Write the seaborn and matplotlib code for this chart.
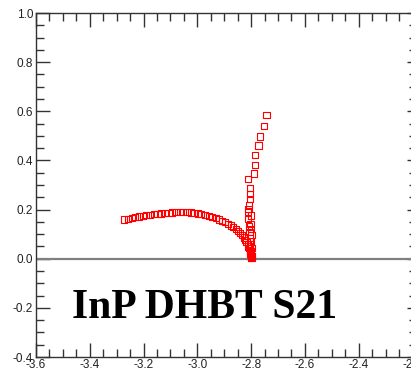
import matplotlib
matplotlib.use("Agg")
import matplotlib.pyplot as plt
from matplotlib.ticker import MultipleLocator, FormatStrFormatter
import seaborn as sns
import pandas as pd

# Real and imaginary parts of S21 (measured sweep)
s21_real = [
    -3.272, -3.258, -3.244, -3.231, -3.217, -3.203, -3.190, -3.176, -3.162, -3.148,
    -3.135, -3.121, -3.107, -3.094, -3.080, -3.066, -3.052, -3.039, -3.025, -3.012,
    -2.998, -2.985, -2.971, -2.958, -2.945, -2.932, -2.920, -2.908, -2.897, -2.886,
    -2.876, -2.866, -2.857, -2.849, -2.841, -2.834, -2.828, -2.822, -2.817, -2.813,
    -2.810, -2.807, -2.805, -2.803, -2.802, -2.801, -2.800, -2.800, -2.799, -2.799,
    -2.800, -2.801, -2.799, -2.803, -2.800, -2.804, -2.799, -2.806, -2.801, -2.809,
    -2.802, -2.813, -2.800, -2.813, -2.810, -2.808, -2.805, -2.805, -2.805, -2.813,
    -2.788, -2.786, -2.786, -2.773, -2.768, -2.752, -2.743,
]
s21_imag = [
    0.160, 0.163, 0.166, 0.169, 0.172, 0.175, 0.177, 0.179, 0.181, 0.183,
    0.184, 0.186, 0.187, 0.188, 0.189, 0.189, 0.189, 0.189, 0.188, 0.186,
    0.184, 0.181, 0.178, 0.174, 0.170, 0.165, 0.160, 0.154, 0.148, 0.142,
    0.135, 0.128, 0.120, 0.112, 0.104, 0.095, 0.086, 0.077, 0.068, 0.059,
    0.050, 0.042, 0.034, 0.027, 0.020, 0.014, 0.009, 0.005, 0.003, 0.012,
    0.022, 0.033, 0.045, 0.058, 0.070, 0.085, 0.097, 0.110, 0.121, 0.131,
    0.141, 0.163, 0.176, 0.190, 0.202, 0.220, 0.244, 0.263, 0.288, 0.323,
    0.347, 0.383, 0.423, 0.461, 0.497, 0.540, 0.586,
]

x_ticks = [-3.6, -3.4, -3.2, -3.0, -2.8, -2.6, -2.4, -2.2]
y_ticks = [-0.4, -0.2, 0.0, 0.2, 0.4, 0.6, 0.8, 1.0]
label_text = "InP DHBT S21"

df = pd.DataFrame({"re": s21_real, "im": s21_imag})

sns.set_style("ticks")
plt.rcParams["font.family"] = ["Liberation Sans", "DejaVu Sans"]
plt.rcParams["axes.unicode_minus"] = False

fig = plt.figure(figsize=(4.11, 3.81), dpi=100)
ax = fig.add_axes([36 / 411, 24 / 381, 376.5 / 411, 344 / 381])

ax.axhline(0.0, color="#808080", lw=1.6, zorder=1)

sns.scatterplot(data=df, x="re", y="im", ax=ax, marker="s", s=20,
                facecolors="none", edgecolor="#ff0000", linewidth=0.8,
                zorder=3, legend=False)

ax.set_xlim(x_ticks[0], x_ticks[-1])
ax.set_ylim(y_ticks[0], y_ticks[-1])
ax.set_xticks(x_ticks)
ax.set_yticks(y_ticks)
ax.xaxis.set_minor_locator(MultipleLocator(0.05))
ax.yaxis.set_minor_locator(MultipleLocator(0.05))
ax.xaxis.set_major_formatter(FormatStrFormatter("%.1f"))
ax.yaxis.set_major_formatter(FormatStrFormatter("%.1f"))
ax.set_xlabel("")
ax.set_ylabel("")

spine_col = "#333333"
for side in ["left", "bottom", "top"]:
    ax.spines[side].set_visible(True)
    ax.spines[side].set_color(spine_col)
    ax.spines[side].set_linewidth(1.0)
ax.spines["right"].set_visible(False)

ax.tick_params(axis="both", which="both", direction="in", color=spine_col,
               top=True, right=False, labelsize=8.5, labelcolor="#222222")
ax.tick_params(axis="both", which="major", length=10, width=1.0)
ax.tick_params(axis="both", which="minor", length=5.5, width=1.0)
ax.tick_params(axis="x", which="major", pad=1.5)
ax.tick_params(axis="y", which="major", pad=2)

# short inward ticks along the right edge
sec = ax.secondary_yaxis("right")
sec.yaxis.set_major_locator(MultipleLocator(0.2))
sec.yaxis.set_minor_locator(MultipleLocator(0.05))
sec.tick_params(which="both", direction="in", labelright=False, color=spine_col, width=1.0)
sec.tick_params(which="major", length=4.5)
sec.tick_params(which="minor", length=3)
sec.spines["right"].set_visible(False)

ax.text(-2.975, -0.241, label_text, ha="center", va="baseline",
        fontsize=30, fontweight="bold", family=["Liberation Serif", "DejaVu Serif"],
        color="black", zorder=4)

fig.savefig("out.png", dpi=100)
